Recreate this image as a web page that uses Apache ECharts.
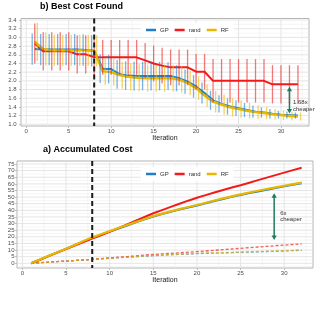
<!DOCTYPE html>
<html><head><meta charset="utf-8">
<script src="https://cdn.jsdelivr.net/npm/echarts@6/dist/echarts.min.js"></script>
<style>html,body{margin:0;padding:0;background:#fff}#c{width:315px;height:315px}</style>
</head><body><div id="c"></div>
<script>
// ---------- data ----------
const iterations = [1,2,3,4,5,6,7,8,9,10,11,12,13,14,15,16,17,18,19,20,21,22,23,24,25,26,27,28,29,30,31,32];
const seriesNames = ['GP','rand','RF'];

// b) best cost found (mean)
const gpBest   = [2.73,2.72,2.72,2.72,2.72,2.72,2.71,2.69,2.28,2.27,2.15,2.12,2.11,2.11,2.11,2.11,2.11,2.06,1.98,1.87,1.72,1.55,1.47,1.41,1.37,1.33,1.29,1.27,1.24,1.22,1.21,1.20];
const randBest = [2.86,2.68,2.68,2.68,2.68,2.61,2.61,2.55,2.54,2.54,2.54,2.54,2.54,2.47,2.40,2.35,2.31,2.31,2.31,2.21,2.21,2.00,2.00,2.00,2.00,2.00,2.00,2.00,1.92,1.92,1.92,1.92];
const rfBest   = [2.90,2.73,2.70,2.70,2.70,2.70,2.70,2.69,2.22,2.20,2.13,2.09,2.07,2.06,2.06,2.06,2.06,2.03,1.95,1.83,1.66,1.52,1.45,1.39,1.35,1.31,1.28,1.26,1.23,1.21,1.19,1.18];
// spread (half range of error bars)
const gpSd   = [0.36,0.36,0.36,0.36,0.36,0.36,0.36,0.36,0.33,0.33,0.33,0.33,0.33,0.33,0.33,0.33,0.32,0.30,0.28,0.26,0.24,0.22,0.20,0.19,0.18,0.16,0.14,0.12,0.11,0.09,0.08,0.07];
const randSd = [0.46,0.44,0.44,0.44,0.44,0.44,0.44,0.44,0.40,0.40,0.40,0.40,0.40,0.40,0.41,0.41,0.41,0.41,0.41,0.41,0.41,0.50,0.50,0.50,0.50,0.50,0.50,0.50,0.44,0.44,0.44,0.44];
const rfSd   = [0.44,0.38,0.36,0.36,0.36,0.36,0.36,0.36,0.31,0.31,0.31,0.31,0.31,0.31,0.31,0.31,0.31,0.30,0.28,0.27,0.26,0.25,0.23,0.21,0.20,0.18,0.16,0.14,0.12,0.11,0.10,0.09];

// a) accumulated cost
const gpCum   = [0,2.7,5.5,8.2,10.9,13.8,16.6,19.4,21.7,24.0,26.3,28.6,30.9,33.2,35.4,37.2,38.9,40.6,42.2,43.7,45.3,47.0,48.6,50.2,51.6,53.0,54.3,55.6,56.9,58.1,59.3,60.4];
const randCum = [0,2.7,5.4,8.1,10.8,13.4,16.0,18.6,21.2,23.8,26.6,29.4,32.2,35.0,37.8,40.2,42.6,45.0,47.3,49.5,51.5,53.5,55.4,57.2,59.0,60.9,62.8,64.7,66.6,68.5,70.4,72.2];
const rfCum   = [0,2.8,5.6,8.3,11.0,13.9,16.8,19.6,22.0,24.3,26.6,28.9,31.2,33.5,35.7,37.5,39.2,40.9,42.5,44.0,45.7,47.4,49.0,50.6,52.1,53.5,54.8,56.1,57.4,58.6,59.8,60.9];
const gpDash   = [0,0.45,0.9,1.3,1.7,2.1,2.5,2.9,3.4,3.8,4.2,4.6,5.0,5.4,5.8,6.1,6.4,6.7,7.0,7.3,7.5,7.7,7.9,8.1,8.3,8.5,8.7,8.9,9.1,9.3,9.6,9.8];
const randDash = [0,0.45,0.9,1.3,1.7,2.1,2.5,3.0,3.6,4.1,4.6,5.1,5.6,6.2,6.7,7.1,7.5,7.9,8.4,8.8,9.3,9.8,10.3,10.8,11.3,11.8,12.3,12.8,13.3,13.7,14.2,14.6];
const rfDash   = [0,0.45,0.9,1.3,1.7,2.1,2.5,3.0,3.5,3.9,4.3,4.7,5.1,5.6,6.0,6.3,6.6,6.9,7.2,7.5,7.7,7.9,8.1,8.3,8.5,8.7,8.9,9.1,9.3,9.6,9.8,10.0];

// reference line & annotations
const switchIter = [8];
const bestArrow = [31, 1.865, 1.25];
const bestArrowText = '1.68x\ncheaper';
const accArrow = [28.85, 52.9, 17.6];
const accArrowText = '6x\ncheaper';

// ticks
const xTicks = [0,5,10,15,20,25,30];
const xMinor = [2.5,7.5,12.5,17.5,22.5,27.5,32.5];
const bestTicks = [1.0,1.2,1.4,1.6,1.8,2.0,2.2,2.4,2.6,2.8,3.0,3.2,3.4];
const bestMinor = [1.1,1.3,1.5,1.7,1.9,2.1,2.3,2.5,2.7,2.9,3.1,3.3];
const accTicks = [0,5,10,15,20,25,30,35,40,45,50,55,60,65,70,75];
const accMinor = [-2.5,2.5,7.5,12.5,17.5,22.5,27.5,32.5,37.5,42.5,47.5,52.5,57.5,62.5,67.5,72.5];

// ---------- style ----------
const FONT = 'Liberation Sans, Arial, sans-serif';
const COL = {GP:'#1f7fc8', rand:'#f21a1a', RF:'#e8b800'};
const GREEN = '#1a7d5e';

const chart = echarts.init(document.getElementById('c'), null, {renderer:'canvas'});

function gridLines(idx, xMaj, xMin, yMaj, yMin) {
  const data = [];
  yMin.forEach(v => data.push([1, v]));
  xMin.forEach(v => data.push([3, v]));
  yMaj.forEach(v => data.push([0, v]));
  xMaj.forEach(v => data.push([2, v]));
  return {
    type:'custom', xAxisIndex: idx, yAxisIndex: idx, silent:true, z:1,
    encode:{x:-1, y:-1},
    data,
    renderItem:(params, api) => {
      const cs = params.coordSys;
      const kind = api.value(0), v = api.value(1);
      const minor = (kind === 1 || kind === 3);
      const style = {stroke: minor ? '#efefef' : '#e2e2e2', lineWidth: minor ? 0.6 : 0.9};
      if (kind < 2) {
        const y = api.coord([0, v])[1];
        return {type:'line', shape:{x1:cs.x, y1:y, x2:cs.x+cs.width, y2:y}, style};
      }
      const x = api.coord([v, 0])[0];
      return {type:'line', shape:{x1:x, y1:cs.y, x2:x, y2:cs.y+cs.height}, style};
    }
  };
}

function vline(idx) {
  return {
    type:'custom', xAxisIndex: idx, yAxisIndex: idx, silent:true, z:6,
    encode:{x:0, y:-1},
    data: switchIter.map(v => [v]),
    renderItem:(params, api) => {
      const cs = params.coordSys;
      const x = api.coord([api.value(0), 0])[0];
      return {type:'line', shape:{x1:x, y1:cs.y, x2:x, y2:cs.y+cs.height},
        style:{stroke:'#1a1a1a', lineWidth:2, lineDash:[5,3]}};
    }
  };
}

function errBars(name, mean, sd, off) {
  return {
    type:'custom', name: name + ' range', xAxisIndex:0, yAxisIndex:0, silent:true, z:4,
    encode:{x:0, y:[1,2]},
    data: iterations.map((x,i) => [x, mean[i]-sd[i], mean[i]+sd[i]]),
    renderItem:(params, api) => {
      const x = api.value(0) + off;
      const p1 = api.coord([x, api.value(1)]);
      const p2 = api.coord([x, api.value(2)]);
      return {type:'line', shape:{x1:p1[0], y1:p1[1], x2:p2[0], y2:p2[1]},
        style:{stroke: COL[name], lineWidth:1.3, opacity:0.6}};
    }
  };
}

function line(idx, name, vals, width, dashed) {
  return {
    type:'line', name, xAxisIndex:idx, yAxisIndex:idx, z: dashed ? 2 : 3,
    data: iterations.map((x,i) => [x, vals[i]]),
    symbol:'none', silent:true, color: COL[name],
    lineStyle:{color: COL[name], width, type: dashed ? [3,2] : 'solid', opacity: dashed ? 0.7 : 1},
    emphasis:{disabled:true}
  };
}

function arrow(idx, spec, text, dx, dy) {
  return {
    type:'custom', xAxisIndex:idx, yAxisIndex:idx, silent:true, z:7,
    encode:{x:0, y:[1,2]},
    data:[spec],
    renderItem:(params, api) => {
      const x = api.value(0);
      const a = api.coord([x, api.value(1)]);
      const b = api.coord([x, api.value(2)]);
      const h = 4.5, w = 2.6;
      return {type:'group', children:[
        {type:'line', shape:{x1:a[0], y1:a[1]+h-1, x2:b[0], y2:b[1]-h+1}, style:{stroke:GREEN, lineWidth:1.5}},
        {type:'polygon', shape:{points:[[a[0],a[1]],[a[0]-w,a[1]+h],[a[0]+w,a[1]+h]]}, style:{fill:GREEN}},
        {type:'polygon', shape:{points:[[b[0],b[1]],[b[0]-w,b[1]-h],[b[0]+w,b[1]-h]]}, style:{fill:GREEN}},
        {type:'text', x:a[0]+dx, y:(a[1]+b[1])/2 + dy,
          style:{text:text, fontSize:6, fontFamily:FONT, fill:'#333', align:'left', verticalAlign:'middle', lineHeight:6.5}}
      ]};
    }
  };
}

function xAxisCfg(idx, nameGap) {
  return {
    type:'value', gridIndex:idx, min:-0.62, max:33.3,
    name:'Iteration', nameLocation:'middle', nameGap,
    nameTextStyle:{fontSize:7, color:'#1a1a1a', fontFamily:FONT},
    axisLine:{show:false, onZero:false},
    axisTick:{show:true, customValues:xTicks, length:2, lineStyle:{color:'#b3b3b3', width:0.8}},
    axisLabel:{customValues:xTicks, fontSize:6, color:'#4d4d4d', margin:2, fontFamily:FONT},
    splitLine:{show:false}
  };
}
function yAxisCfg(idx, min, max, ticks, nameGap, margin, fmt) {
  return {
    type:'value', gridIndex:idx, min, max,
    name:'Normalized Cost', nameLocation:'middle', nameGap,
    nameTextStyle:{fontSize:7, color:'#1a1a1a', fontFamily:FONT},
    axisLine:{show:false, onZero:false},
    axisTick:{show:true, customValues:ticks, length:2, lineStyle:{color:'#b3b3b3', width:0.8}},
    axisLabel:{customValues:ticks, fontSize:6, color:'#4d4d4d', margin, fontFamily:FONT, formatter: fmt},
    splitLine:{show:false}
  };
}

const legendCfg = (top) => ({
  data: seriesNames, left:141, top, orient:'horizontal', icon:'rect',
  itemWidth:10, itemHeight:2.5, itemGap:6, padding:[4,5,4,5],
  backgroundColor:'#ffffff', z:20, selectedMode:false,
  textStyle:{fontSize:6, color:'#333', fontFamily:FONT, padding:[0,0,0,-1]}
});

const option = {
  animation:false,
  backgroundColor:'#ffffff',
  textStyle:{fontFamily:FONT},
  title:[
    {text:'b) Best Cost Found', left:40, top:2, padding:0, textStyle:{fontSize:9, fontWeight:'bold', color:'#000', fontFamily:FONT}},
    {text:'a) Accumulated Cost', left:43, top:145, padding:0, textStyle:{fontSize:9, fontWeight:'bold', color:'#000', fontFamily:FONT}}
  ],
  legend:[legendCfg(23), legendCfg(167)],
  grid:[
    {left:21, top:18.5, width:288, height:107.5, show:true, borderColor:'#b3b3b3', borderWidth:1, backgroundColor:'transparent', containLabel:false, outerBoundsMode:'none'},
    {left:17, top:161, width:296, height:107, show:true, borderColor:'#b3b3b3', borderWidth:1, backgroundColor:'transparent', containLabel:false, outerBoundsMode:'none'}
  ],
  xAxis:[xAxisCfg(0, 6), xAxisCfg(1, 8.5)],
  yAxis:[
    yAxisCfg(0, 0.96, 3.435, bestTicks, 12, 4.5, v => v.toFixed(1)),
    yAxisCfg(1, -3.55, 77.27, accTicks, 9, 2.5, v => String(v))
  ],
  series:[
    gridLines(0, xTicks, xMinor, bestTicks, bestMinor),
    gridLines(1, xTicks, xMinor, accTicks, accMinor),
    line(0, 'GP', gpBest, 2, false),
    line(0, 'rand', randBest, 2, false),
    line(0, 'RF', rfBest, 2.4, false),
    errBars('GP', gpBest, gpSd, -0.3),
    errBars('rand', randBest, randSd, 0),
    errBars('RF', rfBest, rfSd, 0.3),
    line(1, 'GP', gpDash, 1.3, true),
    line(1, 'rand', randDash, 1.3, true),
    line(1, 'RF', rfDash, 1.3, true),
    line(1, 'GP', gpCum, 2, false),
    line(1, 'rand', randCum, 2, false),
    line(1, 'RF', rfCum, 2.2, false),
    vline(0), vline(1),
    arrow(0, bestArrow, bestArrowText, 3.5, 6),
    arrow(1, accArrow, accArrowText, 6, -0.5)
  ]
};
chart.setOption(option);
</script>
</body></html>
